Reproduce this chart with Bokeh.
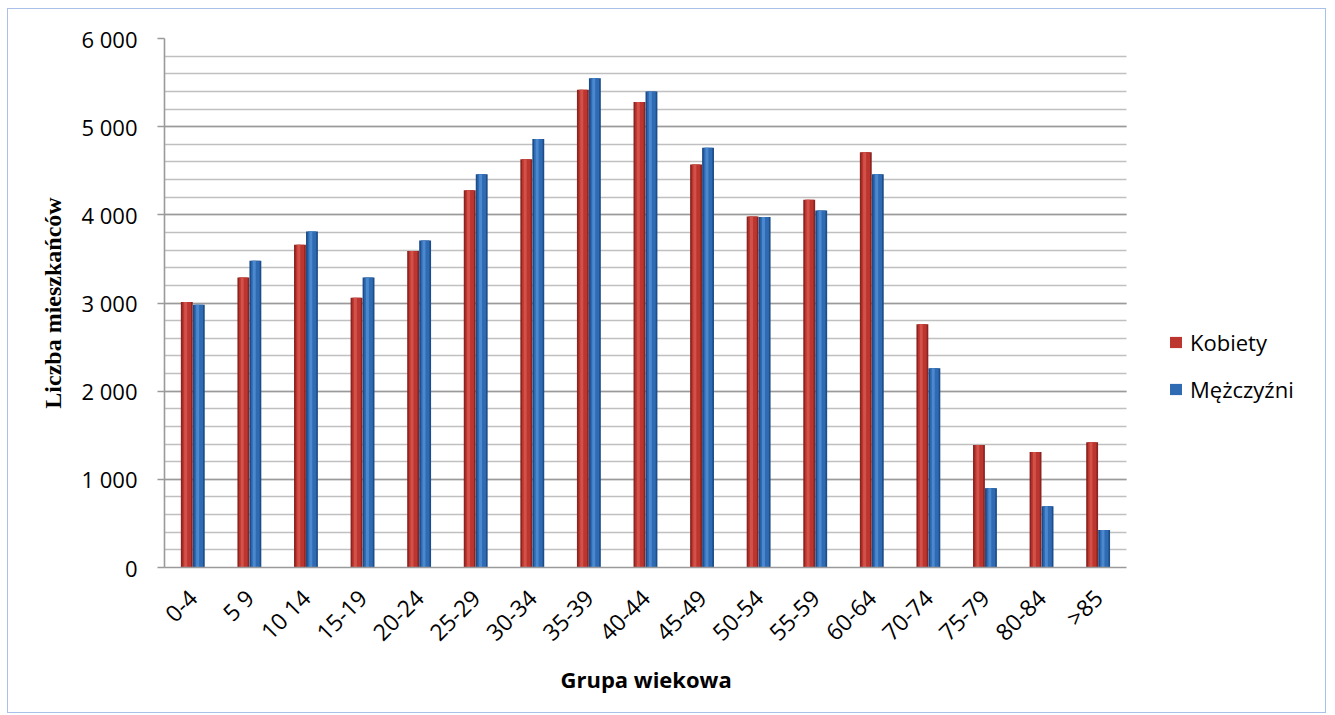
from bokeh.plotting import figure
from bokeh.models import (Range1d, FixedTicker, SingleIntervalTicker, CustomJSTickFormatter,
                          Legend, LegendItem, ColumnDataSource, Title)
from bokeh.transform import dodge
from bokeh.embed import file_html
from bokeh.resources import INLINE

categories = ["0-4", "5 9", "10 14", "15-19", "20-24", "25-29", "30-34", "35-39",
              "40-44", "45-49", "50-54", "55-59", "60-64", "70-74", "75-79", "80-84", ">85"]
kobiety = [3010, 3290, 3660, 3060, 3590, 4280, 4630, 5420, 5280, 4570,
           3980, 4170, 4710, 2760, 1390, 1310, 1420]
mezczyzni = [2980, 3480, 3810, 3290, 3710, 4460, 4860, 5550, 5400, 4760,
             3975, 4050, 4460, 2260, 900, 695, 425]

series_names = ["Kobiety", "Mężczyźni"]
red_dark, red_main, red_light = "#8A2420", "#BD352F", "#D2524A"
blue_dark, blue_main, blue_light = "#1D4C88", "#2E6BB3", "#4B88CE"

idx = list(range(len(categories)))
src = ColumnDataSource(dict(x=idx, k=kobiety, m=mezczyzni))

n = len(categories)
p = figure(x_range=Range1d(-0.5, n - 0.5 + 3.43), y_range=(0, 6000),
           width=1319, height=705,
           output_backend="svg", toolbar_location=None,
           min_border_left=156, min_border_right=7, min_border_top=29, min_border_bottom=147)
p.styles = {"border": "1px solid #A9C1E8", "margin-left": "7px", "margin-top": "8px"}
p.outline_line_color = None
p.background_fill_color = "white"
p.border_fill_color = "white"

bw = 0.21
off = 0.106
p.vbar(x=dodge("x", -off), top="k", width=bw, source=src,
       fill_color=red_dark, line_color=None)
rk = p.vbar(x=dodge("x", -off), top="k", width=bw * 0.72, source=src,
            fill_color=red_main, line_color=None)
p.vbar(x=dodge("x", -off - 0.02), top="k", width=bw * 0.25, source=src,
       fill_color=red_light, line_color=None)

p.vbar(x=dodge("x", off), top="m", width=bw, source=src,
       fill_color=blue_dark, line_color=None)
rm = p.vbar(x=dodge("x", off), top="m", width=bw * 0.72, source=src,
            fill_color=blue_main, line_color=None)
p.vbar(x=dodge("x", off - 0.02), top="m", width=bw * 0.25, source=src,
       fill_color=blue_light, line_color=None)

p.xgrid.grid_line_color = None
p.yaxis.ticker = SingleIntervalTicker(interval=1000, num_minor_ticks=5)
p.ygrid.grid_line_color = "#9A9A9A"
p.ygrid.grid_line_width = 1.6
p.ygrid.minor_grid_line_color = "#C0C0C0"
p.ygrid.minor_grid_line_width = 1.6
p.ygrid.cross_bounds = (-0.5, n - 0.5)

ya = p.yaxis[0]
ya.formatter = CustomJSTickFormatter(code="return tick.toString().replace(/\\B(?=(\\d{3})+(?!\\d))/g, ' ');")
ya.axis_line_color = "#9A9A9A"
ya.axis_line_width = 1.6
ya.major_tick_line_color = "#9A9A9A"
ya.major_tick_line_width = 1.6
ya.major_tick_out = 7
ya.major_tick_in = 0
ya.minor_tick_line_color = None
ya.major_label_standoff = 20
ya.major_label_text_font = "Open Sans"
ya.major_label_text_font_size = "22px"
ya.major_label_text_color = "#000000"
ya.axis_label = "Liczba mieszkańców"
ya.axis_label_text_font = "Liberation Serif"
ya.axis_label_text_font_style = "bold"
ya.axis_label_text_font_size = "24px"
ya.axis_label_text_color = "#000000"
ya.axis_label_standoff = 12

xa = p.xaxis[0]
xa.bounds = (-0.5, n - 0.5)
xa.ticker = FixedTicker(ticks=idx)
xa.major_label_overrides = {i: c for i, c in zip(idx, categories)}
xa.axis_line_color = "#9A9A9A"
xa.axis_line_width = 1.6
xa.major_tick_line_color = None
xa.minor_tick_line_color = None
xa.major_label_orientation = 0.785398
xa.major_label_standoff = 20
xa.major_label_text_font = "Open Sans"
xa.major_label_text_font_size = "23px"
xa.major_label_text_color = "#000000"

xtitle = Title(text="Grupa wiekowa", align="left", offset=396, standoff=0,
               text_font="Open Sans", text_font_style="bold", text_font_size="22px",
               text_color="#000000")
p.add_layout(xtitle, "below")

legend = Legend(items=[LegendItem(label=series_names[0], renderers=[rk]),
                       LegendItem(label=series_names[1], renderers=[rm])],
                location=(1004, 162), orientation="vertical",
                glyph_width=15, glyph_height=14, label_standoff=7,
                label_height=32, spacing=15, padding=0, margin=0,
                border_line_color=None, background_fill_alpha=0,
                label_text_font="Open Sans", label_text_font_size="22px",
                label_text_color="#000000")
p.add_layout(legend, "center")

open("out.html", "w").write(file_html(p, INLINE))
